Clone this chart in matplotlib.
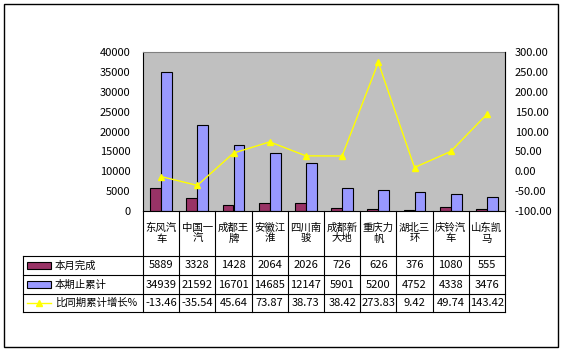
import matplotlib
matplotlib.use("Agg")
import matplotlib.pyplot as plt
import matplotlib.transforms as mtransforms
from matplotlib.lines import Line2D
from matplotlib.patches import Rectangle
import numpy as np

plt.rcParams['font.family'] = ['Noto Sans CJK SC', 'DejaVu Sans']

categories = ["东风汽\n车", "中国一\n汽", "成都王\n牌", "安徽江\n淮", "四川南\n骏",
              "成都新\n大地", "重庆力\n帆", "湖北三\n环", "庆铃汽\n车", "山东凯\n马"]
month_done = [5889, 3328, 1428, 2064, 2026, 726, 626, 376, 1080, 555]
cumulative = [34939, 21592, 16701, 14685, 12147, 5901, 5200, 4752, 4338, 3476]
growth = [-13.46, -35.54, 45.64, 73.87, 38.73, 38.42, 273.83, 9.42, 49.74, 143.42]
growth_txt = ["-13.46", "-35.54", "45.64", "73.87", "38.73", "38.42", "273.83", "9.42", "49.74", "143.42"]
series_names = ["本月完成", "本期止累计", "比同期累计增长%"]

W, H = 564, 353
fig = plt.figure(figsize=(W / 100, H / 100), dpi=100)

def fy(py):
    return 1 - py / H

def fx(px):
    return px / W

ax_l, ax_r, ax_t, ax_b = 143, 505, 52, 211
ax = fig.add_axes([fx(ax_l), fy(ax_b), fx(ax_r) - fx(ax_l), fy(ax_t) - fy(ax_b)])
ax.set_facecolor("#C0C0C0")

x = np.arange(len(categories))
bw = 0.30
ax.bar(x - bw / 2, month_done, bw, color="#993366", edgecolor="black", linewidth=0.8, zorder=2)
ax.bar(x + bw / 2, cumulative, bw, color="#9999FF", edgecolor="black", linewidth=0.8, zorder=2)
ax.set_xlim(-0.5, len(categories) - 0.5)
ax.set_ylim(0, 40000)
ax.set_yticks(range(0, 40001, 5000))
ax.set_xticks([])
ax.tick_params(axis="y", length=0, pad=9, labelsize=8)
for s in ["top", "right"]:
    ax.spines[s].set_color("#808080")
ax.spines["left"].set_color("black")
ax.spines["bottom"].set_color("black")

ax2 = ax.twinx()
ax2.plot(x, growth, color="#FFFF00", linewidth=1, marker="^", markersize=5,
         markerfacecolor="#FFFF00", markeredgecolor="#FFFF00", zorder=3)
ax2.set_ylim(-100, 300)
ax2.set_yticks(range(-100, 301, 50))
ax2.set_yticklabels([f"{v:.2f}" for v in range(-100, 301, 50)])
ax2.tick_params(axis="y", length=0, pad=7, labelsize=8)
for s in ["top", "left", "bottom"]:
    ax2.spines[s].set_visible(False)
ax2.spines["right"].set_color("black")

# table below the plot
trans = mtransforms.blended_transform_factory(ax.transData, fig.transFigure)
row_lines = [256, 275, 294, 312]
tab_left = 23
lw = 0.8
for b in np.arange(-0.5, len(categories)):
    fig.add_artist(Line2D([b, b], [fy(ax_b), fy(row_lines[-1])], transform=trans, color="black", lw=lw))
for r in row_lines:
    fig.add_artist(Line2D([fx(tab_left), fx(ax_r)], [fy(r), fy(r)], color="black", lw=lw))
fig.add_artist(Line2D([fx(tab_left), fx(tab_left)], [fy(row_lines[0]), fy(row_lines[-1])], color="black", lw=lw))

for i, c in enumerate(categories):
    fig.text(i, fy(233), c, transform=trans, ha="center", va="center", fontsize=7.5, linespacing=1.1)

rows = [[str(v) for v in month_done], [str(v) for v in cumulative], growth_txt]
for k in range(3):
    yc = fy((row_lines[k] + row_lines[k + 1]) / 2)
    for i, t in enumerate(rows[k]):
        fig.text(i, yc, t, transform=trans, ha="center", va="center", fontsize=8)
    fig.text(fx(55), yc, series_names[k], ha="left", va="center", fontsize=7.5)

# legend keys
key_cols = ["#993366", "#9999FF"]
for k in range(2):
    yc = (row_lines[k] + row_lines[k + 1]) / 2
    fig.add_artist(Rectangle((fx(27), fy(yc + 3.5)), fx(51) - fx(27), fy(yc - 3.5) - fy(yc + 3.5),
                             facecolor=key_cols[k], edgecolor="black", lw=0.8))
yc = fy((row_lines[2] + row_lines[3]) / 2)
fig.add_artist(Line2D([fx(27), fx(51)], [yc, yc], color="#FFFF00", lw=1))
fig.add_artist(Line2D([fx(39)], [yc], color="#FFFF00", marker="^", markersize=4.5))

# outer border
fig.add_artist(Rectangle((fx(4), fy(347)), fx(558) - fx(4), fy(4) - fy(347),
                         facecolor="none", edgecolor="black", lw=1))

fig.savefig("out.png", dpi=100)
